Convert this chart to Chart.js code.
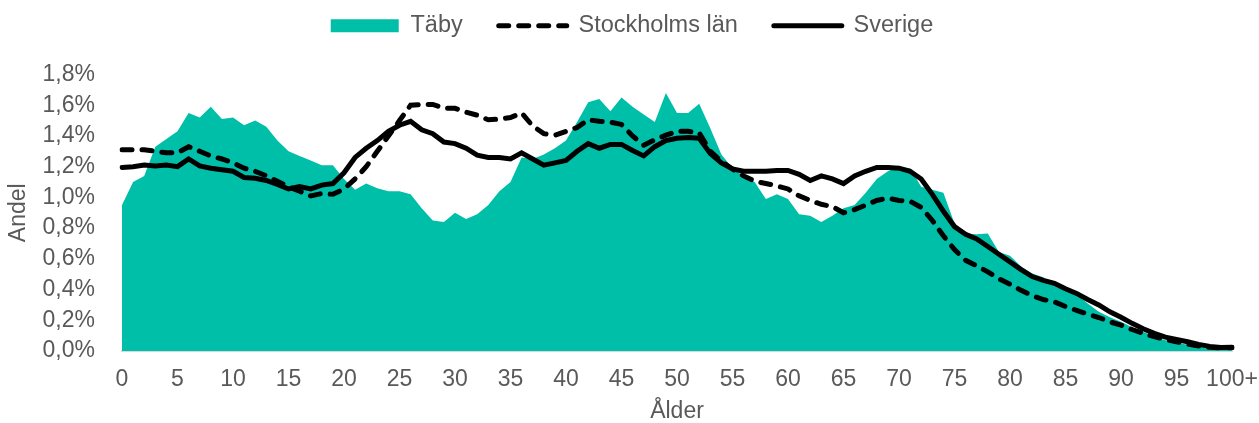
<!doctype html>
<html>
<head>
	<title>Andel per ålder</title>
	<script src="https://cdn.jsdelivr.net/npm/chart.js@4/dist/chart.umd.min.js"></script>
	<style>
		body { margin: 0; background: #fff; }
		#container { width: 1259px; height: 423px; }
	</style>
</head>
<body>
	<div id="container">
		<canvas id="canvas"></canvas>
	</div>
	<script>
		// alder 0..99 och 100+
		var ages = [];
		for (var i = 0; i < 100; i++) ages.push(String(i));
		ages.push('100+');

		var taby = [
			0.95, 1.10, 1.14, 1.33, 1.38, 1.43, 1.55, 1.52, 1.59, 1.51,
			1.52, 1.47, 1.50, 1.46, 1.37, 1.30, 1.27, 1.24, 1.21, 1.21,
			1.12, 1.05, 1.09, 1.06, 1.04, 1.04, 1.02, 0.93, 0.85, 0.84,
			0.90, 0.86, 0.89, 0.95, 1.04, 1.10, 1.26, 1.25, 1.28, 1.32,
			1.37, 1.49, 1.62, 1.64, 1.56, 1.65, 1.59, 1.54, 1.49, 1.68,
			1.55, 1.55, 1.61, 1.45, 1.28, 1.19, 1.14, 1.10, 0.99, 1.02,
			0.99, 0.89, 0.88, 0.84, 0.88, 0.93, 0.95, 1.03, 1.12, 1.17,
			1.20, 1.19, 1.07, 1.05, 1.03, 0.83, 0.765, 0.76, 0.765, 0.645,
			0.62, 0.55, 0.505, 0.48, 0.42, 0.395, 0.37, 0.31, 0.255, 0.22,
			0.19, 0.155, 0.125, 0.095, 0.07, 0.055, 0.04, 0.03, 0.02, 0.015,
			0.02
		];

		var stockholm = [
			1.31, 1.31, 1.31, 1.30, 1.29, 1.29, 1.33, 1.30, 1.27, 1.25,
			1.225, 1.19, 1.17, 1.14, 1.105, 1.07, 1.04, 1.01, 1.025, 1.02,
			1.055, 1.12, 1.20, 1.30, 1.40, 1.50, 1.60, 1.605, 1.605, 1.58,
			1.58, 1.555, 1.535, 1.505, 1.51, 1.52, 1.55, 1.465, 1.415, 1.405,
			1.43, 1.455, 1.505, 1.495, 1.49, 1.475, 1.40, 1.34, 1.375, 1.405,
			1.43, 1.43, 1.42, 1.30, 1.235, 1.185, 1.14, 1.105, 1.09, 1.075,
			1.055, 1.01, 0.98, 0.955, 0.94, 0.90, 0.92, 0.95, 0.98, 0.995,
			0.98, 0.975, 0.935, 0.85, 0.75, 0.66, 0.59, 0.555, 0.515, 0.47,
			0.435, 0.395, 0.36, 0.335, 0.32, 0.29, 0.265, 0.24, 0.218, 0.19,
			0.168, 0.14, 0.115, 0.093, 0.075, 0.06, 0.045, 0.032, 0.024, 0.02,
			0.022
		];

		var sverige = [
			1.195, 1.20, 1.21, 1.205, 1.21, 1.20, 1.25, 1.205, 1.19, 1.18,
			1.17, 1.13, 1.125, 1.11, 1.085, 1.055, 1.07, 1.055, 1.08, 1.09,
			1.16, 1.26, 1.32, 1.37, 1.43, 1.47, 1.495, 1.44, 1.415, 1.36,
			1.35, 1.32, 1.275, 1.26, 1.26, 1.25, 1.29, 1.25, 1.21, 1.225,
			1.24, 1.30, 1.35, 1.32, 1.345, 1.345, 1.305, 1.27, 1.33, 1.37,
			1.385, 1.39, 1.385, 1.285, 1.225, 1.185, 1.17, 1.17, 1.17, 1.175,
			1.175, 1.15, 1.11, 1.14, 1.12, 1.09, 1.14, 1.17, 1.195, 1.195,
			1.19, 1.17, 1.12, 1.02, 0.91, 0.81, 0.76, 0.73, 0.68, 0.63,
			0.58, 0.53, 0.485, 0.46, 0.44, 0.405, 0.375, 0.335, 0.30, 0.255,
			0.22, 0.18, 0.145, 0.115, 0.09, 0.075, 0.06, 0.043, 0.03, 0.023,
			0.025
		];

		var teal = '#00BFA8';
		var textColor = '#595959';
		var fontFamily = '"Liberation Sans", Arial, sans-serif';

		// extra luft mellan legend och diagramyta
		var legendSpace = {
			id: 'legendSpace',
			beforeLayout: function(chart) {
				var legend = chart.legend;
				if (!legend || legend._patched) return;
				var fit = legend.fit;
				legend.fit = function() {
					fit.call(this);
					this.height += 27;
				};
				legend._patched = true;
			}
		};

		window.onload = function() {
			var ctx = document.getElementById('canvas').getContext('2d');
			window.myChart = new Chart(ctx, {
				type: 'line',
				data: {
					labels: ages,
					datasets: [{
						label: 'Täby',
						data: taby,
						fill: 'origin',
						backgroundColor: teal,
						borderColor: teal,
						borderWidth: 0,
						pointRadius: 0,
						order: 3
					}, {
						label: 'Stockholms län',
						data: stockholm,
						fill: false,
						borderColor: '#000',
						borderWidth: 5,
						borderDash: [10, 10],
						borderCapStyle: 'round',
						pointRadius: 0,
						order: 2
					}, {
						label: 'Sverige',
						data: sverige,
						fill: false,
						borderColor: '#000',
						borderWidth: 5,
						borderCapStyle: 'round',
						pointRadius: 0,
						order: 1
					}]
				},
				plugins: [legendSpace],
				options: {
					responsive: true,
					maintainAspectRatio: false,
					animation: false,
					layout: {
						padding: { left: 5, right: 0, top: -22, bottom: 0 }
					},
					plugins: {
						tooltip: { enabled: false },
						legend: {
							position: 'top',
							labels: {
								color: textColor,
								font: { family: fontFamily, size: 23.5 },
								usePointStyle: true,
								pointStyleWidth: 68,
								boxWidth: 68,
								boxHeight: 13,
								padding: 36,
								sort: function(a, b) { return a.datasetIndex - b.datasetIndex; },
								generateLabels: function(chart) {
									return chart.data.datasets.map(function(ds, i) {
										var isArea = i === 0;
										return {
											text: ds.label,
											datasetIndex: i,
											fontColor: textColor,
											fillStyle: isArea ? teal : 'rgba(0,0,0,0)',
											strokeStyle: isArea ? teal : '#000',
											lineWidth: isArea ? 0 : 5,
											lineDash: ds.borderDash || [],
											lineCap: 'round',
											pointStyle: isArea ? 'rect' : 'line',
											hidden: false
										};
									});
								}
							}
						}
					},
					scales: {
						x: {
							offset: false,
							grid: { display: false, drawTicks: false },
							border: { display: true, color: '#D9D9D9', width: 2 },
							ticks: {
								autoSkip: false,
								maxRotation: 0,
								padding: 15,
								color: textColor,
								font: { family: fontFamily, size: 23 },
								callback: function(value, index) {
									return index % 5 === 0 ? ages[index] : null;
								}
							},
							title: {
								display: true,
								text: 'Ålder',
								color: textColor,
								font: { family: fontFamily, size: 23 },
								padding: { top: 0, bottom: -2 }
							},
							afterFit: function(scale) {
								scale.height = 72;
								scale.paddingLeft = 0;
								scale.paddingRight = 27;
							}
						},
						y: {
							min: 0,
							max: 1.8,
							grid: { display: false, drawTicks: false },
							border: { display: false },
							ticks: {
								stepSize: 0.2,
								padding: 27,
								color: textColor,
								font: { family: fontFamily, size: 23 },
								callback: function(value) {
									return value.toFixed(1).replace('.', ',') + '%';
								}
							},
							title: {
								display: true,
								text: 'Andel',
								color: textColor,
								font: { family: fontFamily, size: 23 },
								padding: { top: 0, bottom: 0 }
							},
							afterFit: function(scale) {
								scale.width = 117;
							}
						}
					}
				}
			});
		};
	</script>
</body>
</html>
